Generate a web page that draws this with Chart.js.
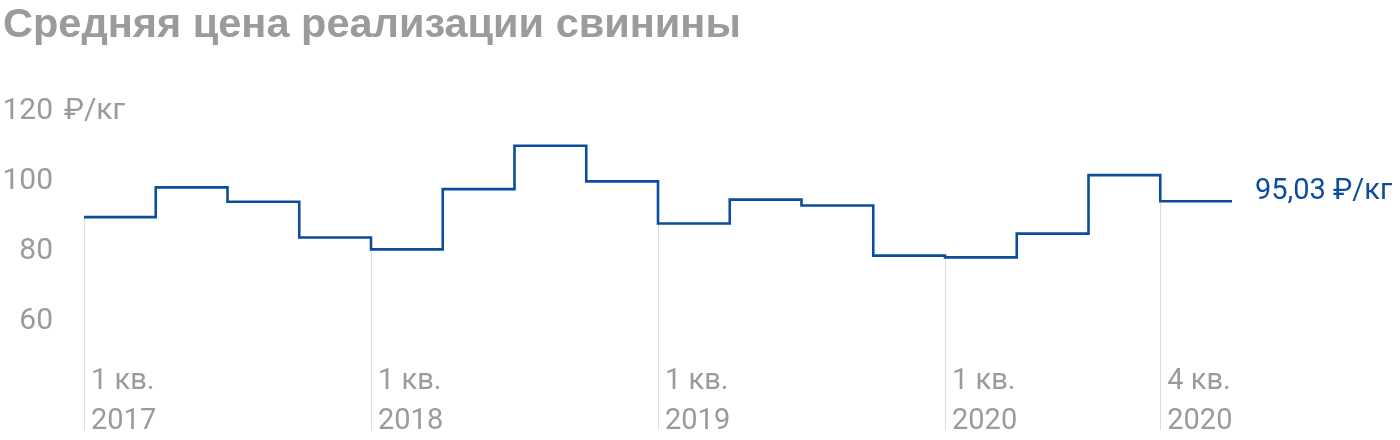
<!DOCTYPE html>
<html>
<head>
<meta charset="utf-8">
<script src="https://cdn.jsdelivr.net/npm/chart.js@4/dist/chart.umd.min.js"></script>
<style>
    html, body { margin: 0; padding: 0; background: #fff; }
    #wrap { width: 1400px; height: 440px; }
</style>
</head>
<body>
<div id="wrap"><canvas id="price-chart" width="1400" height="440"></canvas></div>
<script>
// quarters, 2017 - 2020
const quarters = [
    '1 кв. 2017', '2 кв. 2017', '3 кв. 2017', '4 кв. 2017',
    '1 кв. 2018', '2 кв. 2018', '3 кв. 2018', '4 кв. 2018',
    '1 кв. 2019', '2 кв. 2019', '3 кв. 2019', '4 кв. 2019',
    '1 кв. 2020', '2 кв. 2020', '3 кв. 2020', '4 кв. 2020'
];
const prices = [90.5, 99.0, 94.9, 84.7, 81.3, 98.5, 110.9, 100.7, 88.7, 95.5, 93.8, 79.5, 79.0, 85.8, 102.5, 95.03];
const markedQuarters = [0, 4, 8, 12, 15];
const yTicks = [60, 80, 100, 120];
const unit = '₽/кг';
const lastLabel = '95,03 ₽/кг';

const grey = '#9b9b9b';
const blue = '#0b4d9c';

// each price holds for its whole quarter, so the line needs a closing point
let points = prices.map((v, i) => ({ x: i, y: v }));
points.push({ x: prices.length, y: prices[prices.length - 1] });

const extras = {
    id: 'extras',
    beforeDatasetsDraw(chart){
        let ctx = chart.ctx;
        let xs = chart.scales.x;
        let ys = chart.scales.y;
        ctx.save();
        ctx.strokeStyle = '#dcdcdc';
        ctx.lineWidth = 1;
        for (const q of markedQuarters) {
            let px = Math.round(xs.getPixelForValue(q)) + 0.5;
            ctx.beginPath();
            ctx.moveTo(px, ys.getPixelForValue(prices[q]));
            ctx.lineTo(px, chart.height - 10);
            ctx.stroke();
        }
        ctx.restore();
    },
    afterDraw(chart){
        let ctx = chart.ctx;
        let xs = chart.scales.x;
        let ys = chart.scales.y;
        ctx.save();
        ctx.textBaseline = 'middle';
        ctx.textAlign = 'left';

        // unit after the top tick
        ctx.font = '30px Roboto';
        ctx.fillStyle = grey;
        ctx.fillText(unit, ys.right - 20, ys.getPixelForValue(120) - 2);

        // last value label
        ctx.font = '29px Roboto';
        ctx.fillStyle = blue;
        ctx.fillText(lastLabel, xs.getPixelForValue(prices.length) + 23, ys.getPixelForValue(prices[prices.length - 1]) - 10);
        ctx.restore();
    }
};

let ctx = document.getElementById('price-chart');

let priceChart = new Chart(ctx, {
    type: 'line',
    data: {
        datasets: [{
            data: points,
            borderColor: blue,
            borderWidth: 2.6,
            stepped: 'before',
            pointRadius: 0,
            fill: false
        }]
    },
    options: {
        responsive: false,
        animation: false,
        layout: {
            padding: { left: 3, right: 168, top: 0, bottom: 0 }
        },
        plugins: {
            legend: { display: false },
            tooltip: { enabled: false },
            title: {
                display: true,
                text: 'Средняя цена реализации свинины',
                align: 'start',
                color: grey,
                font: { family: 'Liberation Sans', size: 41.5, weight: 'bold', lineHeight: 1.2 },
                padding: { top: 1, bottom: 63 }
            }
        },
        scales: {
            x: {
                type: 'linear',
                min: 0,
                max: prices.length,
                grid: { display: false, drawTicks: false },
                border: { display: false },
                afterBuildTicks(scale){
                    scale.ticks = markedQuarters.map(v => ({ value: v }));
                },
                afterFit(scale){
                    scale.height = 81;
                },
                ticks: {
                    align: 'start',
                    labelOffset: 7,
                    padding: 3,
                    maxRotation: 0,
                    autoSkip: false,
                    color: grey,
                    font: { family: 'Roboto', size: 29, lineHeight: 1.38 },
                    callback(value){
                        let q = quarters[value];
                        return [q.slice(0, 5), q.slice(6)];
                    }
                }
            },
            y: {
                min: 50,
                max: 120,
                grid: { display: false, drawTicks: false },
                border: { display: false },
                afterBuildTicks(scale){
                    scale.ticks = yTicks.map(v => ({ value: v }));
                },
                afterFit(scale){
                    scale.width = 81;
                },
                ticks: {
                    padding: 31,
                    labelOffset: -2,
                    color: grey,
                    font: { family: 'Roboto', size: 30 }
                }
            }
        }
    },
    plugins: [extras]
});
</script>
</body>
</html>
